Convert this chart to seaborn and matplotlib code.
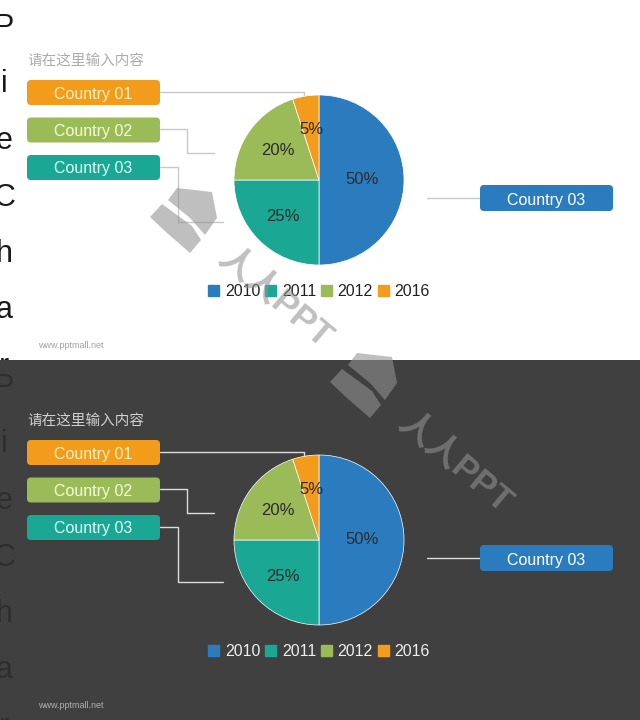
import numpy as np
import pandas as pd
import matplotlib
matplotlib.use('Agg')
import matplotlib.pyplot as plt
import seaborn as sns
from matplotlib.patches import FancyBboxPatch, Rectangle, Polygon, Patch

sns.set_theme(style='white')
plt.rcParams['font.family'] = ['Liberation Sans', 'Noto Sans CJK SC', 'DejaVu Sans']

# data
years = ['2010', '2011', '2012', '2016']
shares = [50, 25, 20, 5]
left_countries = ['Country 01', 'Country 02', 'Country 03']
right_country = 'Country 03'
title = '请在这里输入内容'
side_letters = list('PieChart')
footer = 'www.pptmall.net'

pie_colors = sns.color_palette(['#2b7cbf', '#1aa895', '#9bbb59', '#f39c1c'])
box_colors = ['#f39c1c', '#9bbb59', '#1aa895']
box_text = ['#fff2bf', '#f3ffd2', '#dcfff8']

df = pd.DataFrame({'year': years, 'share': shares})

fig = plt.figure(figsize=(6.4, 7.2), dpi=100)


def draw_slide(bottom, dark):
    ax = fig.add_axes([0, bottom, 1, 0.5])
    ax.set_xlim(0, 640)
    ax.set_ylim(360, 0)
    ax.axis('off')
    bg = '#404040' if dark else 'white'
    ax.add_patch(Rectangle((0, 0), 640, 360, color=bg, zorder=0))

    # stacked title letters, cut by the slide edge as in the original
    letter_c = '#2e2e2e' if dark else '#1a1a1a'
    for i, ch in enumerate(side_letters):
        ax.text(4, 28 + i * 56.5, ch, fontsize=22, color=letter_c,
                ha='center', va='center', clip_on=True)

    ax.text(27, 61, title, fontsize=10.5, color='#d0d0d0' if dark else '#ababab',
            ha='left', va='center')

    # left boxes
    for i, name in enumerate(left_countries):
        y = 80 + i * 37.5
        ax.add_patch(FancyBboxPatch((27, y), 133, 25,
                                    boxstyle='round,pad=0,rounding_size=4',
                                    fc=box_colors[i], ec='none', zorder=2))
        ax.text(93, y + 14, name, fontsize=11.5, color=box_text[i],
                ha='center', va='center', zorder=3)
    # right box
    ax.add_patch(FancyBboxPatch((480, 185), 133, 26,
                                boxstyle='round,pad=0,rounding_size=4',
                                fc=pie_colors[0], ec='none', zorder=2))
    ax.text(546, 200, right_country, fontsize=11.5, color='white',
            ha='center', va='center', zorder=3)

    lc = '#dcdcdc' if dark else '#c8c8c8'
    kw = dict(color=lc, lw=1, zorder=1)
    ax.plot([160, 304, 304], [92, 92, 110], **kw)
    ax.plot([160, 187, 187, 214], [129, 129, 153, 153], **kw)
    ax.plot([160, 178, 178, 223], [167, 167, 222, 222], **kw)
    ax.plot([427, 480], [198, 198], **kw)

    ax.text(38, 345, footer, fontsize=6.5, color='#b0b0b0' if dark else '#a0a0a0',
            ha='left', va='center')

    # pie
    cx, cy, r = 319, 180, 85
    pax = fig.add_axes([(cx - r) / 640, bottom + (360 - cy - r) / 720,
                        2 * r / 640, 2 * r / 720])
    wedges, _, autotexts = pax.pie(df['share'], colors=pie_colors, startangle=90,
                                   counterclock=False, autopct='%d%%',
                                   pctdistance=0.6,
                                   wedgeprops=dict(linewidth=0.5, edgecolor='white'),
                                   textprops=dict(fontsize=12, color='#2b2b2b'))
    autotexts[0].set_position((0.51, 0))
    pax.set_xlim(-1, 1)
    pax.set_ylim(-1, 1)
    pax.set_aspect('auto')
    pax.axis('off')
    handles = [Patch(color=c) for c in pie_colors]
    leg = pax.legend(handles, df['year'], loc='center', ncol=4,
                     bbox_to_anchor=(0.5, -0.155), frameon=False,
                     handlelength=0.7, handleheight=0.7, handletextpad=0.35,
                     columnspacing=0.3, fontsize=11.5)
    for t in leg.get_texts():
        t.set_color('#eeeeee' if dark else '#222222')


draw_slide(0.5, False)
draw_slide(0.0, True)

# watermark over whole picture
wm = fig.add_axes([0, 0, 1, 1], facecolor='none')
wm.set_xlim(0, 640)
wm.set_ylim(720, 0)
wm.axis('off')
shape_a = np.array([(357, 353), (392, 357), (397, 383), (385, 400), (370, 383), (348, 365)])
shape_b = np.array([(330, 382), (342, 369), (372, 391), (381, 405), (370, 418), (347, 398)])
for dx, dy in [(-180, -165), (0, 0)]:
    off = np.array([dx, dy])
    wm.add_patch(Polygon(shape_a + off, fc='#929292', ec='none', alpha=0.58))
    wm.add_patch(Polygon(shape_b + off, fc='#929292', ec='none', alpha=0.58))
    wm.text(455 + dx, 462 + dy, '人人PPT', fontsize=25, fontweight='bold',
            color='#929292', alpha=0.58, rotation=-40, ha='center', va='center',
            rotation_mode='anchor')

fig.savefig('out.png', dpi=100)
